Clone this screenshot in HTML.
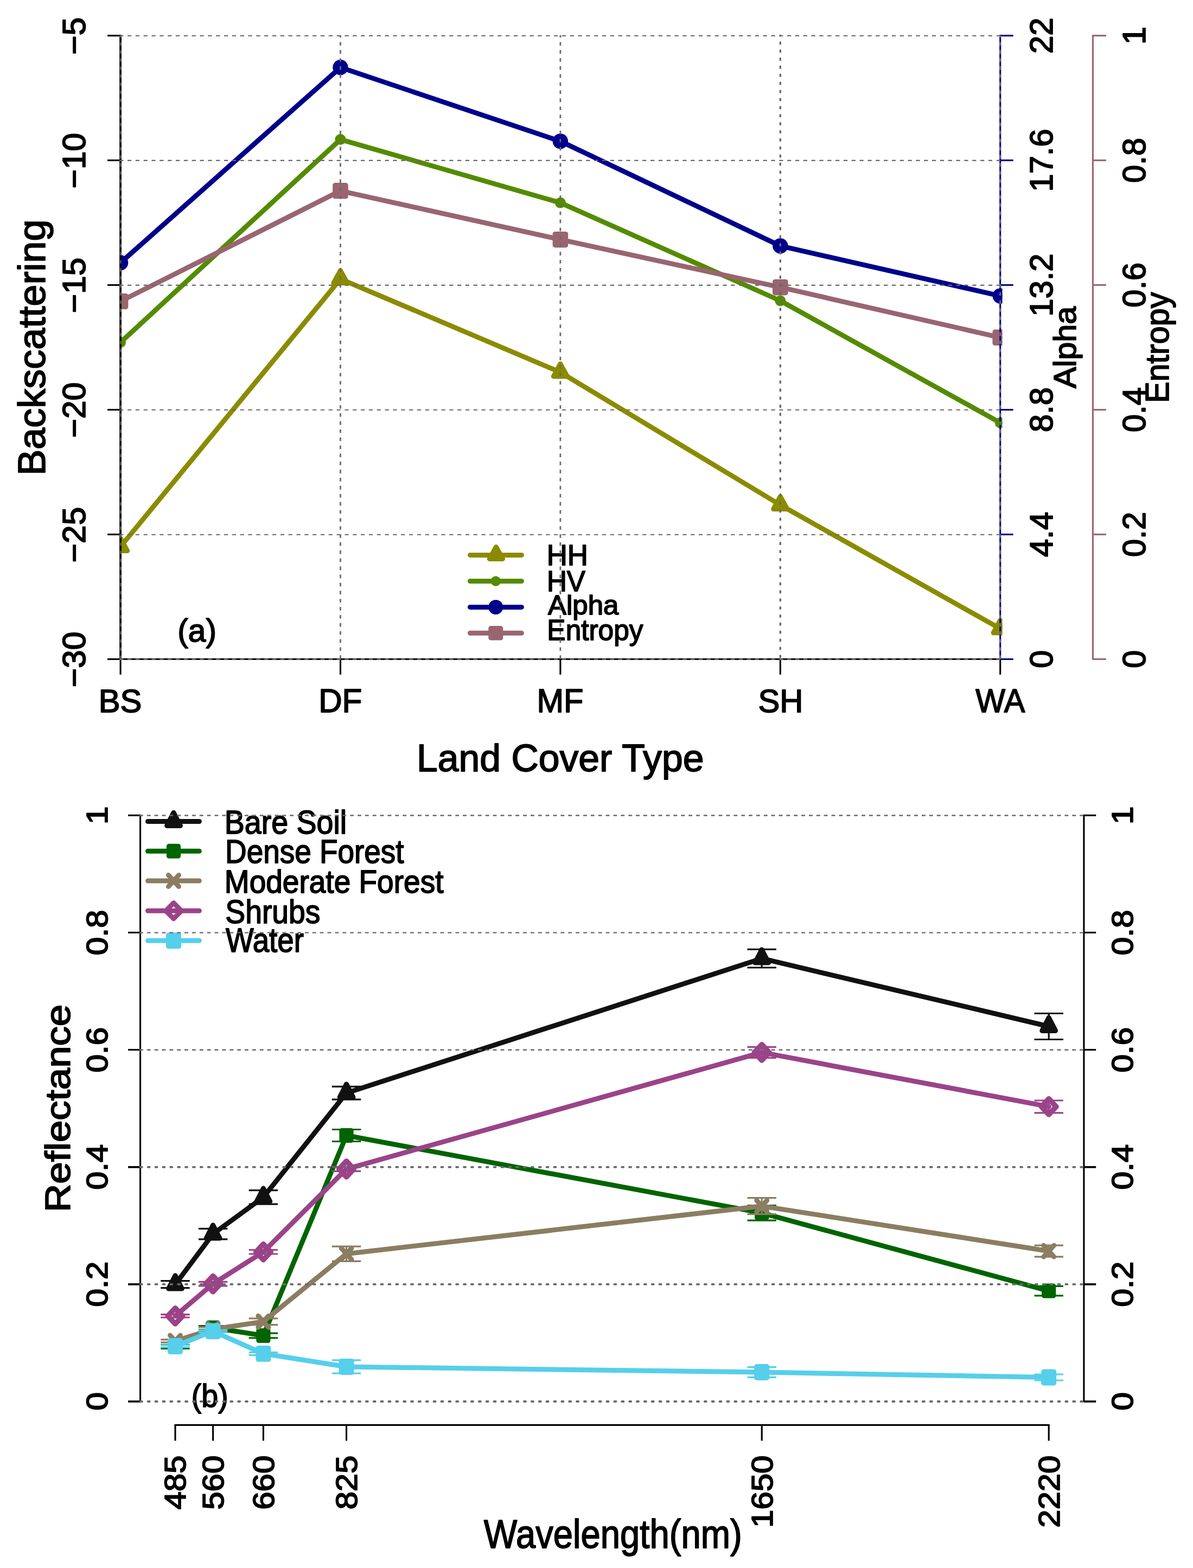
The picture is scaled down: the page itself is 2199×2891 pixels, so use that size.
<!DOCTYPE html>
<html lang="en"><head><meta charset="utf-8"><title>Backscattering and reflectance by land cover type</title>
<style>html,body{margin:0;padding:0;background:#fff}svg{display:block}text{font-family:"Liberation Sans",sans-serif;fill:#000;stroke:#000;stroke-width:1.8;stroke-linejoin:round}</style></head><body>
<svg width="2199" height="2891" viewBox="0 0 2199 2891" role="img" aria-label="Backscattering, alpha and entropy by land cover type; reflectance by wavelength">
<rect width="2199" height="2891" fill="#fff"/>
<defs><clipPath id="ca"><rect x="220.6" y="45.7" width="1626.9" height="1189.6"/></clipPath></defs>
<g clip-path="url(#ca)">
<polyline points="222.1,1008 627.5,514.3 1032.9,686.4 1438.3,931 1843.7,1159.2" fill="none" stroke="#8B8B00" stroke-width="9" stroke-linejoin="round" stroke-linecap="round"/>
<polygon points="222.1,992.5 234.7,1015.5 209.5,1015.5" fill="#8B8B00" stroke="#8B8B00" stroke-width="9" stroke-linejoin="round"/>
<polygon points="627.5,498.8 640.1,521.8 614.9,521.8" fill="#8B8B00" stroke="#8B8B00" stroke-width="9" stroke-linejoin="round"/>
<polygon points="1032.9,670.9 1045.5,693.9 1020.3,693.9" fill="#8B8B00" stroke="#8B8B00" stroke-width="9" stroke-linejoin="round"/>
<polygon points="1438.3,915.5 1450.9,938.5 1425.7,938.5" fill="#8B8B00" stroke="#8B8B00" stroke-width="9" stroke-linejoin="round"/>
<polygon points="1843.7,1143.7 1856.3,1166.7 1831.1,1166.7" fill="#8B8B00" stroke="#8B8B00" stroke-width="9" stroke-linejoin="round"/>
<polyline points="222.1,631.3 627.5,257.1 1032.9,373.85 1438.3,554.5 1843.7,779.4" fill="none" stroke="#548B00" stroke-width="9" stroke-linejoin="round" stroke-linecap="round"/>
<circle cx="222.1" cy="631.3" r="10" fill="#548B00"/>
<circle cx="627.5" cy="257.1" r="10" fill="#548B00"/>
<circle cx="1032.9" cy="373.85" r="10" fill="#548B00"/>
<circle cx="1438.3" cy="554.5" r="10" fill="#548B00"/>
<circle cx="1843.7" cy="779.4" r="10" fill="#548B00"/>
<polyline points="222.1,484.5 627.5,124.3 1032.9,260.4 1438.3,453.4 1843.7,545.6" fill="none" stroke="#00008B" stroke-width="9" stroke-linejoin="round" stroke-linecap="round"/>
<circle cx="222.1" cy="484.5" r="14.2" fill="#00008B"/>
<circle cx="627.5" cy="124.3" r="14.2" fill="#00008B"/>
<circle cx="1032.9" cy="260.4" r="14.2" fill="#00008B"/>
<circle cx="1438.3" cy="453.4" r="14.2" fill="#00008B"/>
<circle cx="1843.7" cy="545.6" r="14.2" fill="#00008B"/>
<polyline points="222.1,555.6 627.5,351.8 1032.9,441.7 1438.3,529.7 1843.7,622.3" fill="none" stroke="#996570" stroke-width="9" stroke-linejoin="round" stroke-linecap="round"/>
<rect x="212.3" y="545.4" width="19.6" height="20.4" fill="#996570" stroke="#996570" stroke-width="9" stroke-linejoin="round"/>
<rect x="617.7" y="341.6" width="19.6" height="20.4" fill="#996570" stroke="#996570" stroke-width="9" stroke-linejoin="round"/>
<rect x="1023.1" y="431.5" width="19.6" height="20.4" fill="#996570" stroke="#996570" stroke-width="9" stroke-linejoin="round"/>
<rect x="1428.5" y="519.5" width="19.6" height="20.4" fill="#996570" stroke="#996570" stroke-width="9" stroke-linejoin="round"/>
<rect x="1833.9" y="612.1" width="19.6" height="20.4" fill="#996570" stroke="#996570" stroke-width="9" stroke-linejoin="round"/>
</g>
<path d="M866.5 1023.4L961.4 1023.4" stroke="#8B8B00" stroke-width="9" stroke-linecap="round"/>
<polygon points="914.4,1008.43 926.5,1030.4 902.3,1030.4" fill="#8B8B00" stroke="#8B8B00" stroke-width="9" stroke-linejoin="round"/>
<path d="M866.5 1071.5L961.4 1071.5" stroke="#548B00" stroke-width="9" stroke-linecap="round"/>
<circle cx="913.8" cy="1071.5" r="9.3" fill="#548B00"/>
<path d="M866.5 1119.4L961.4 1119.4" stroke="#00008B" stroke-width="9" stroke-linecap="round"/>
<circle cx="913.8" cy="1119.4" r="13.5" fill="#00008B"/>
<path d="M866.5 1167.2L961.4 1167.2" stroke="#996570" stroke-width="9" stroke-linecap="round"/>
<rect x="904.8" y="1158.4" width="18" height="17.6" fill="#996570" stroke="#996570" stroke-width="9" stroke-linejoin="round"/>
<path d="M222.1 64.2L222.1 1216.8" stroke="#000" stroke-width="3.9"/>
<path d="M198.1 65.7L222.1 65.7" stroke="#000" stroke-width="3.1"/>
<path d="M198.1 295.62L222.1 295.62" stroke="#000" stroke-width="3.1"/>
<path d="M198.1 525.54L222.1 525.54" stroke="#000" stroke-width="3.1"/>
<path d="M198.1 755.46L222.1 755.46" stroke="#000" stroke-width="3.1"/>
<path d="M198.1 985.38L222.1 985.38" stroke="#000" stroke-width="3.1"/>
<path d="M198.1 1215.3L222.1 1215.3" stroke="#000" stroke-width="3.1"/>
<path d="M222.1 1215.3L1843.7 1215.3" stroke="#000" stroke-width="3.1"/>
<path d="M222.1 1215.3L222.1 1243.8" stroke="#000" stroke-width="3.1"/>
<path d="M627.5 1215.3L627.5 1243.8" stroke="#000" stroke-width="3.1"/>
<path d="M1032.9 1215.3L1032.9 1243.8" stroke="#000" stroke-width="3.1"/>
<path d="M1438.3 1215.3L1438.3 1243.8" stroke="#000" stroke-width="3.1"/>
<path d="M1843.7 1215.3L1843.7 1243.8" stroke="#000" stroke-width="3.1"/>
<path d="M1843.7 64.2L1843.7 1216.8" stroke="#00008B" stroke-width="3.1"/>
<path d="M1843.7 65.7L1867.7 65.7" stroke="#00008B" stroke-width="3.1"/>
<path d="M1843.7 295.62L1867.7 295.62" stroke="#00008B" stroke-width="3.1"/>
<path d="M1843.7 525.54L1867.7 525.54" stroke="#00008B" stroke-width="3.1"/>
<path d="M1843.7 755.46L1867.7 755.46" stroke="#00008B" stroke-width="3.1"/>
<path d="M1843.7 985.38L1867.7 985.38" stroke="#00008B" stroke-width="3.1"/>
<path d="M1843.7 1215.3L1867.7 1215.3" stroke="#00008B" stroke-width="3.1"/>
<path d="M2014.4 64.2L2014.4 1216.8" stroke="#996570" stroke-width="3.1"/>
<path d="M2014.4 65.7L2038.9 65.7" stroke="#996570" stroke-width="3.1"/>
<path d="M2014.4 295.62L2038.9 295.62" stroke="#996570" stroke-width="3.1"/>
<path d="M2014.4 525.54L2038.9 525.54" stroke="#996570" stroke-width="3.1"/>
<path d="M2014.4 755.46L2038.9 755.46" stroke="#996570" stroke-width="3.1"/>
<path d="M2014.4 985.38L2038.9 985.38" stroke="#996570" stroke-width="3.1"/>
<path d="M2014.4 1215.3L2038.9 1215.3" stroke="#996570" stroke-width="3.1"/>
<text transform="translate(1007.78,1041.6) scale(0.981,1)" font-size="53.75">HH</text>
<text transform="translate(1007.89,1089.85) scale(0.9505,1)" font-size="53.75">HV</text>
<text transform="translate(1010.04,1132.51) scale(1.0227,1)" font-size="49.81">Alpha</text>
<text transform="translate(1008.37,1179.93) scale(0.9541,1)" font-size="53.85">Entropy</text>
<text transform="translate(327.22,1182.57) scale(0.9923,1)" font-size="59.2">(a)</text>
<text transform="translate(768.04,1421.51) scale(0.9846,1)" font-size="70.78">Land Cover Type</text>
<text transform="translate(83.39,876.81) rotate(-90) scale(1.0299,1)" font-size="69.92">Backscattering</text>
<text transform="translate(1982.94,716.03) rotate(-90) scale(1.0166,1)" font-size="58.12">Alpha</text>
<text transform="translate(2153.61,742.91) rotate(-90) scale(0.9767,1)" font-size="60.67">Entropy</text>
<text transform="translate(157.01,100.74) rotate(-90) scale(1.0227,1)" font-size="59.07">−5</text>
<text transform="translate(157.01,347.5) rotate(-90) scale(1.0227,1)" font-size="59.07">−10</text>
<text transform="translate(157.01,577.34) rotate(-90) scale(1.0227,1)" font-size="59.07">−15</text>
<text transform="translate(157.01,807.34) rotate(-90) scale(1.0227,1)" font-size="59.07">−20</text>
<text transform="translate(157.01,1037.18) rotate(-90) scale(1.0227,1)" font-size="59.07">−25</text>
<text transform="translate(157.01,1267.18) rotate(-90) scale(1.0227,1)" font-size="59.07">−30</text>
<text transform="translate(1939.81,98.95) rotate(-90) scale(1.012,1)" font-size="59.08">22</text>
<text transform="translate(1939.81,353.81) rotate(-90) scale(1.012,1)" font-size="59.08">17.6</text>
<text transform="translate(1939.81,583.73) rotate(-90) scale(1.012,1)" font-size="59.08">13.2</text>
<text transform="translate(1939.81,797.02) rotate(-90) scale(1.012,1)" font-size="59.08">8.8</text>
<text transform="translate(1939.81,1026.94) rotate(-90) scale(1.012,1)" font-size="59.08">4.4</text>
<text transform="translate(1939.81,1231.93) rotate(-90) scale(1.012,1)" font-size="59.08">0</text>
<text transform="translate(2110.91,82.33) rotate(-90) scale(1.012,1)" font-size="59.08">1</text>
<text transform="translate(2110.91,337.18) rotate(-90) scale(1.012,1)" font-size="59.08">0.8</text>
<text transform="translate(2110.91,567.1) rotate(-90) scale(1.012,1)" font-size="59.08">0.6</text>
<text transform="translate(2110.91,797.02) rotate(-90) scale(1.012,1)" font-size="59.08">0.4</text>
<text transform="translate(2110.91,1026.94) rotate(-90) scale(1.012,1)" font-size="59.08">0.2</text>
<text transform="translate(2110.91,1231.93) rotate(-90) scale(1.012,1)" font-size="59.08">0</text>
<text transform="translate(181.73,1312.61) scale(1.0104,1)" font-size="59.08">BS</text>
<text transform="translate(587.13,1313.2) scale(0.9898,1)" font-size="60.8">DF</text>
<text transform="translate(989.57,1313.2) scale(0.9786,1)" font-size="60.8">MF</text>
<text transform="translate(1397.52,1312.61) scale(1.0106,1)" font-size="59.08">SH</text>
<text transform="translate(1798.27,1313.2) scale(0.9536,1)" font-size="60.8">WA</text>
<path d="M220.2 66L1843.7 66" stroke="#696969" stroke-width="2.1" stroke-dasharray="7.2 7.63"/>
<path d="M220.2 295.92L1843.7 295.92" stroke="#696969" stroke-width="2.1" stroke-dasharray="7.2 7.63"/>
<path d="M220.2 525.84L1843.7 525.84" stroke="#696969" stroke-width="2.1" stroke-dasharray="7.2 7.63"/>
<path d="M220.2 755.76L1843.7 755.76" stroke="#696969" stroke-width="2.1" stroke-dasharray="7.2 7.63"/>
<path d="M220.2 985.68L1843.7 985.68" stroke="#696969" stroke-width="2.1" stroke-dasharray="7.2 7.63"/>
<path d="M220.2 1215.6L1843.7 1215.6" stroke="#696969" stroke-width="2.9" stroke-dasharray="7.2 7.63"/>
<path d="M222.35 1214.9L222.35 65.1" stroke="#696969" stroke-width="2.4" stroke-dasharray="6.2 8.68"/>
<path d="M627.5 1214.9L627.5 65.1" stroke="#696969" stroke-width="2.8" stroke-dasharray="6.6 8.28"/>
<path d="M1032.9 1214.9L1032.9 65.1" stroke="#696969" stroke-width="2.8" stroke-dasharray="6.6 8.28"/>
<path d="M1438.3 1211.8L1438.3 65.1" stroke="#696969" stroke-width="3.4" stroke-dasharray="3 11.88" stroke-linecap="round"/>
<path d="M1843.7 1214.9L1843.7 65.1" stroke="#696969" stroke-width="2.8" stroke-dasharray="6.6 8.28"/>
<path d="M323 2361.6V2374.6M296.3 2361.6H349.7M296.3 2374.6H349.7M392.61 2265.35V2284.85M365.91 2265.35H419.31M365.91 2284.85H419.31M485.41 2194.55V2220.05M458.71 2194.55H512.11M458.71 2220.05H512.11M638.54 2003.3V2027.1M611.84 2003.3H665.24M611.84 2027.1H665.24M1404.2 1750.4V1784M1377.5 1750.4H1430.9M1377.5 1784H1430.9M1933.2 1868.5V1916.5M1906.5 1868.5H1959.9M1906.5 1916.5H1959.9" fill="none" stroke="#111111" stroke-width="3.2"/>
<polyline points="323,2368.1 392.61,2275.1 485.41,2207.3 638.54,2015.2 1404.2,1767.2 1933.2,1892.5" fill="none" stroke="#111111" stroke-width="9" stroke-linejoin="round" stroke-linecap="round"/>
<polygon points="323,2351.8 335.4,2376 310.6,2376" fill="#111111" stroke="#111111" stroke-width="9" stroke-linejoin="round"/>
<polygon points="392.61,2258.8 405.01,2283 380.21,2283" fill="#111111" stroke="#111111" stroke-width="9" stroke-linejoin="round"/>
<polygon points="485.41,2191 497.81,2215.2 473.01,2215.2" fill="#111111" stroke="#111111" stroke-width="9" stroke-linejoin="round"/>
<polygon points="638.54,1998.9 650.94,2023.1 626.14,2023.1" fill="#111111" stroke="#111111" stroke-width="9" stroke-linejoin="round"/>
<polygon points="1404.2,1750.9 1416.6,1775.1 1391.8,1775.1" fill="#111111" stroke="#111111" stroke-width="9" stroke-linejoin="round"/>
<polygon points="1933.2,1876.2 1945.6,1900.4 1920.8,1900.4" fill="#111111" stroke="#111111" stroke-width="9" stroke-linejoin="round"/>
<path d="M323 2479.5V2486.5M296.3 2479.5H349.7M296.3 2486.5H349.7M392.61 2444.5V2451.5M365.91 2444.5H419.31M365.91 2451.5H419.31M485.41 2458.1V2466.9M458.71 2458.1H512.11M458.71 2466.9H512.11M638.54 2082.5V2104.5M611.84 2082.5H665.24M611.84 2104.5H665.24M1404.2 2222.6V2250.2M1377.5 2222.6H1430.9M1377.5 2250.2H1430.9M1933.2 2371.3V2388.9M1906.5 2371.3H1959.9M1906.5 2388.9H1959.9" fill="none" stroke="#006400" stroke-width="3.2"/>
<polyline points="323,2483 392.61,2448 485.41,2462.5 638.54,2093.5 1404.2,2236.4 1933.2,2380.1" fill="none" stroke="#006400" stroke-width="9" stroke-linejoin="round" stroke-linecap="round"/>
<rect x="314.4" y="2474" width="17.2" height="18" fill="#006400" stroke="#006400" stroke-width="9" stroke-linejoin="round"/>
<rect x="384.01" y="2439" width="17.2" height="18" fill="#006400" stroke="#006400" stroke-width="9" stroke-linejoin="round"/>
<rect x="476.81" y="2453.5" width="17.2" height="18" fill="#006400" stroke="#006400" stroke-width="9" stroke-linejoin="round"/>
<rect x="629.94" y="2084.5" width="17.2" height="18" fill="#006400" stroke="#006400" stroke-width="9" stroke-linejoin="round"/>
<rect x="1395.6" y="2227.4" width="17.2" height="18" fill="#006400" stroke="#006400" stroke-width="9" stroke-linejoin="round"/>
<rect x="1924.6" y="2371.1" width="17.2" height="18" fill="#006400" stroke="#006400" stroke-width="9" stroke-linejoin="round"/>
<path d="M323 2469.9V2475.1M296.3 2469.9H349.7M296.3 2475.1H349.7M392.61 2446.9V2454.3M365.91 2446.9H419.31M365.91 2454.3H419.31M485.41 2430.8V2442.6M458.71 2430.8H512.11M458.71 2442.6H512.11M638.54 2298.15V2325.35M611.84 2298.15H665.24M611.84 2325.35H665.24M1404.2 2208.7V2238.7M1377.5 2208.7H1430.9M1377.5 2238.7H1430.9M1933.2 2296.2V2317.2M1906.5 2296.2H1959.9M1906.5 2317.2H1959.9" fill="none" stroke="#8B7D62" stroke-width="3.2"/>
<polyline points="323,2472.5 392.61,2450.6 485.41,2436.7 638.54,2311.75 1404.2,2223.7 1933.2,2306.7" fill="none" stroke="#8B7D62" stroke-width="9" stroke-linejoin="round" stroke-linecap="round"/>
<path d="M313.5 2462L332.5 2483M313.5 2483L332.5 2462" fill="none" stroke="#8B7D62" stroke-width="9" stroke-linecap="round"/>
<path d="M383.11 2440.1L402.11 2461.1M383.11 2461.1L402.11 2440.1" fill="none" stroke="#8B7D62" stroke-width="9" stroke-linecap="round"/>
<path d="M475.91 2426.2L494.91 2447.2M475.91 2447.2L494.91 2426.2" fill="none" stroke="#8B7D62" stroke-width="9" stroke-linecap="round"/>
<path d="M629.04 2301.25L648.04 2322.25M629.04 2322.25L648.04 2301.25" fill="none" stroke="#8B7D62" stroke-width="9" stroke-linecap="round"/>
<path d="M1394.7 2213.2L1413.7 2234.2M1394.7 2234.2L1413.7 2213.2" fill="none" stroke="#8B7D62" stroke-width="9" stroke-linecap="round"/>
<path d="M1923.7 2296.2L1942.7 2317.2M1923.7 2317.2L1942.7 2296.2" fill="none" stroke="#8B7D62" stroke-width="9" stroke-linecap="round"/>
<path d="M323 2423.6V2429M296.3 2423.6H349.7M296.3 2429H349.7M392.61 2363.35V2370.85M365.91 2363.35H419.31M365.91 2370.85H419.31M485.41 2304.5V2312M458.71 2304.5H512.11M458.71 2312H512.11M638.54 2151.3V2159.4M611.84 2151.3H665.24M611.84 2159.4H665.24M1404.2 1930.4V1950.4M1377.5 1930.4H1430.9M1377.5 1950.4H1430.9M1933.2 2029V2051.8M1906.5 2029H1959.9M1906.5 2051.8H1959.9" fill="none" stroke="#9B4389" stroke-width="3.2"/>
<polyline points="323,2426.3 392.61,2367.1 485.41,2308.25 638.54,2155.35 1404.2,1940.4 1933.2,2040.4" fill="none" stroke="#9B4389" stroke-width="9" stroke-linejoin="round" stroke-linecap="round"/>
<polygon points="323,2411.8 336.5,2426.3 323,2440.8 309.5,2426.3" fill="none" stroke="#9B4389" stroke-width="9.8" stroke-linejoin="round"/>
<polygon points="392.61,2352.6 406.11,2367.1 392.61,2381.6 379.11,2367.1" fill="none" stroke="#9B4389" stroke-width="9.8" stroke-linejoin="round"/>
<polygon points="485.41,2293.75 498.91,2308.25 485.41,2322.75 471.91,2308.25" fill="none" stroke="#9B4389" stroke-width="9.8" stroke-linejoin="round"/>
<polygon points="638.54,2140.85 652.04,2155.35 638.54,2169.85 625.04,2155.35" fill="none" stroke="#9B4389" stroke-width="9.8" stroke-linejoin="round"/>
<polygon points="1404.2,1925.9 1417.7,1940.4 1404.2,1954.9 1390.7,1940.4" fill="none" stroke="#9B4389" stroke-width="9.8" stroke-linejoin="round"/>
<polygon points="1933.2,2025.9 1946.7,2040.4 1933.2,2054.9 1919.7,2040.4" fill="none" stroke="#9B4389" stroke-width="9.8" stroke-linejoin="round"/>
<path d="M323 2480V2484M296.3 2480H349.7M296.3 2484H349.7M392.61 2452.3V2456.3M365.91 2452.3H419.31M365.91 2456.3H419.31M485.41 2493.3V2498.3M458.71 2493.3H512.11M458.71 2498.3H512.11M638.54 2507.9V2532.1M611.84 2507.9H665.24M611.84 2532.1H665.24M1404.2 2520.6V2539.4M1377.5 2520.6H1430.9M1377.5 2539.4H1430.9M1933.2 2534V2545M1906.5 2534H1959.9M1906.5 2545H1959.9" fill="none" stroke="#56CFEB" stroke-width="3.2"/>
<polyline points="323,2482 392.61,2454.3 485.41,2495.8 638.54,2520 1404.2,2530 1933.2,2539.5" fill="none" stroke="#56CFEB" stroke-width="9" stroke-linejoin="round" stroke-linecap="round"/>
<rect x="313.5" y="2471.6" width="19" height="20.8" fill="#56CFEB" stroke="#56CFEB" stroke-width="9" stroke-linejoin="round"/>
<rect x="383.11" y="2443.9" width="19" height="20.8" fill="#56CFEB" stroke="#56CFEB" stroke-width="9" stroke-linejoin="round"/>
<rect x="475.91" y="2485.4" width="19" height="20.8" fill="#56CFEB" stroke="#56CFEB" stroke-width="9" stroke-linejoin="round"/>
<rect x="629.04" y="2509.6" width="19" height="20.8" fill="#56CFEB" stroke="#56CFEB" stroke-width="9" stroke-linejoin="round"/>
<rect x="1394.7" y="2519.6" width="19" height="20.8" fill="#56CFEB" stroke="#56CFEB" stroke-width="9" stroke-linejoin="round"/>
<rect x="1923.7" y="2529.1" width="19" height="20.8" fill="#56CFEB" stroke="#56CFEB" stroke-width="9" stroke-linejoin="round"/>
<path d="M272.5 1514.5L367.3 1514.5" stroke="#111111" stroke-width="9" stroke-linecap="round"/>
<polygon points="320,1498.2 332.4,1522.4 307.6,1522.4" fill="#111111" stroke="#111111" stroke-width="9" stroke-linejoin="round"/>
<path d="M272.5 1569.3L367.3 1569.3" stroke="#006400" stroke-width="9" stroke-linecap="round"/>
<rect x="311.4" y="1560.3" width="17.2" height="18" fill="#006400" stroke="#006400" stroke-width="9" stroke-linejoin="round"/>
<path d="M272.5 1624.1L367.3 1624.1" stroke="#8B7D62" stroke-width="9" stroke-linecap="round"/>
<path d="M310.5 1613.6L329.5 1634.6M310.5 1634.6L329.5 1613.6" fill="none" stroke="#8B7D62" stroke-width="9" stroke-linecap="round"/>
<path d="M272.5 1679.3L367.3 1679.3" stroke="#9B4389" stroke-width="9" stroke-linecap="round"/>
<polygon points="320,1664.7 334.3,1679.3 320,1693.9 305.7,1679.3" fill="none" stroke="#9B4389" stroke-width="9" stroke-linejoin="round"/>
<path d="M272.5 1734.3L367.3 1734.3" stroke="#56CFEB" stroke-width="9" stroke-linecap="round"/>
<rect x="310.5" y="1723.9" width="19" height="20.8" fill="#56CFEB" stroke="#56CFEB" stroke-width="9" stroke-linejoin="round"/>
<path d="M258.6 1501.8L258.6 2585.3" stroke="#000" stroke-width="3.1"/>
<path d="M236.1 1503.3L258.6 1503.3" stroke="#000" stroke-width="3.1"/>
<path d="M236.1 1719.4L258.6 1719.4" stroke="#000" stroke-width="3.1"/>
<path d="M236.1 1935.5L258.6 1935.5" stroke="#000" stroke-width="3.1"/>
<path d="M236.1 2151.8L258.6 2151.8" stroke="#000" stroke-width="3.7"/>
<path d="M236.1 2367.9L258.6 2367.9" stroke="#000" stroke-width="3.7"/>
<path d="M236.1 2584L258.6 2584" stroke="#000" stroke-width="3.7"/>
<path d="M1997.9 1501.8L1997.9 2585.3" stroke="#000" stroke-width="3.1"/>
<path d="M1997.9 1503.3L2020.2 1503.3" stroke="#000" stroke-width="3.1"/>
<path d="M1997.9 1719.4L2020.2 1719.4" stroke="#000" stroke-width="3.1"/>
<path d="M1997.9 1935.5L2020.2 1935.5" stroke="#000" stroke-width="3.1"/>
<path d="M1997.9 2151.8L2020.2 2151.8" stroke="#000" stroke-width="3.7"/>
<path d="M1997.9 2367.9L2020.2 2367.9" stroke="#000" stroke-width="3.7"/>
<path d="M1997.9 2584L2020.2 2584" stroke="#000" stroke-width="3.7"/>
<path d="M321.5 2627.4L1934.7 2627.4" stroke="#000" stroke-width="3.1"/>
<path d="M323 2627.4L323 2656.4" stroke="#000" stroke-width="3.1"/>
<path d="M392.61 2627.4L392.61 2656.4" stroke="#000" stroke-width="3.1"/>
<path d="M485.41 2627.4L485.41 2656.4" stroke="#000" stroke-width="3.1"/>
<path d="M638.54 2627.4L638.54 2656.4" stroke="#000" stroke-width="3.1"/>
<path d="M1404.2 2627.4L1404.2 2656.4" stroke="#000" stroke-width="3.1"/>
<path d="M1933.2 2627.4L1933.2 2656.4" stroke="#000" stroke-width="3.1"/>
<text transform="translate(413.73,1536.74) scale(0.9036,1)" font-size="61.5">Bare Soil</text>
<text transform="translate(415.02,1590.98) scale(0.8866,1)" font-size="61.94">Dense Forest</text>
<text transform="translate(413.8,1646.01) scale(0.9362,1)" font-size="58.78">Moderate Forest</text>
<text transform="translate(415.32,1701.74) scale(0.8987,1)" font-size="61.5">Shrubs</text>
<text transform="translate(416.01,1755.22) scale(0.874,1)" font-size="62.65">Water</text>
<text transform="translate(352.87,2593.71) scale(0.9279,1)" font-size="59.73">(b)</text>
<text transform="translate(891.87,2854.24) scale(0.8861,1)" font-size="73.57">Wavelength(nm)</text>
<text transform="translate(129.15,2235.09) rotate(-90) scale(1.1104,1)" font-size="65.37">Reflectance</text>
<text transform="translate(198.45,1520.06) rotate(-90) scale(1.0944,1)" font-size="55.05">1</text>
<text transform="translate(2087.95,1520.06) rotate(-90) scale(1.0944,1)" font-size="55.05">1</text>
<text transform="translate(198.45,1761.28) rotate(-90) scale(1.0944,1)" font-size="55.05">0.8</text>
<text transform="translate(2087.95,1761.28) rotate(-90) scale(1.0944,1)" font-size="55.05">0.8</text>
<text transform="translate(198.45,1977.38) rotate(-90) scale(1.0944,1)" font-size="55.05">0.6</text>
<text transform="translate(2087.95,1977.38) rotate(-90) scale(1.0944,1)" font-size="55.05">0.6</text>
<text transform="translate(198.45,2193.48) rotate(-90) scale(1.0944,1)" font-size="55.05">0.4</text>
<text transform="translate(2087.95,2193.48) rotate(-90) scale(1.0944,1)" font-size="55.05">0.4</text>
<text transform="translate(198.45,2409.58) rotate(-90) scale(1.0944,1)" font-size="55.05">0.2</text>
<text transform="translate(2087.95,2409.58) rotate(-90) scale(1.0944,1)" font-size="55.05">0.2</text>
<text transform="translate(198.45,2600.56) rotate(-90) scale(1.0944,1)" font-size="55.05">0</text>
<text transform="translate(2087.95,2600.56) rotate(-90) scale(1.0944,1)" font-size="55.05">0</text>
<text transform="translate(342.45,2783.27) rotate(-90) scale(1.087,1)" font-size="55.05">485</text>
<text transform="translate(412.05,2783.42) rotate(-90) scale(1.087,1)" font-size="55.05">560</text>
<text transform="translate(504.86,2783.42) rotate(-90) scale(1.087,1)" font-size="55.05">660</text>
<text transform="translate(657.99,2783.27) rotate(-90) scale(1.087,1)" font-size="55.05">825</text>
<text transform="translate(1423.65,2816.63) rotate(-90) scale(1.087,1)" font-size="55.05">1650</text>
<text transform="translate(1952.65,2816.63) rotate(-90) scale(1.087,1)" font-size="55.05">2220</text>
<path d="M256.9 1503.5L1997.9 1503.5" stroke="#696969" stroke-width="2.4" stroke-dasharray="6.9 6.966"/>
<path d="M256.9 1719.6L1997.9 1719.6" stroke="#696969" stroke-width="2.4" stroke-dasharray="6.9 6.966"/>
<path d="M256.9 1935.7L1997.9 1935.7" stroke="#696969" stroke-width="2.4" stroke-dasharray="6.9 6.966"/>
<path d="M258.8 2151.8L1997.9 2151.8" stroke="#696969" stroke-width="3.8" stroke-dasharray="3.1 10.766" stroke-linecap="round"/>
<path d="M258.8 2367.9L1997.9 2367.9" stroke="#696969" stroke-width="3.8" stroke-dasharray="3.1 10.766" stroke-linecap="round"/>
<path d="M258.8 2584L1997.9 2584" stroke="#696969" stroke-width="3.8" stroke-dasharray="3.1 10.766" stroke-linecap="round"/>
</svg></body></html>
